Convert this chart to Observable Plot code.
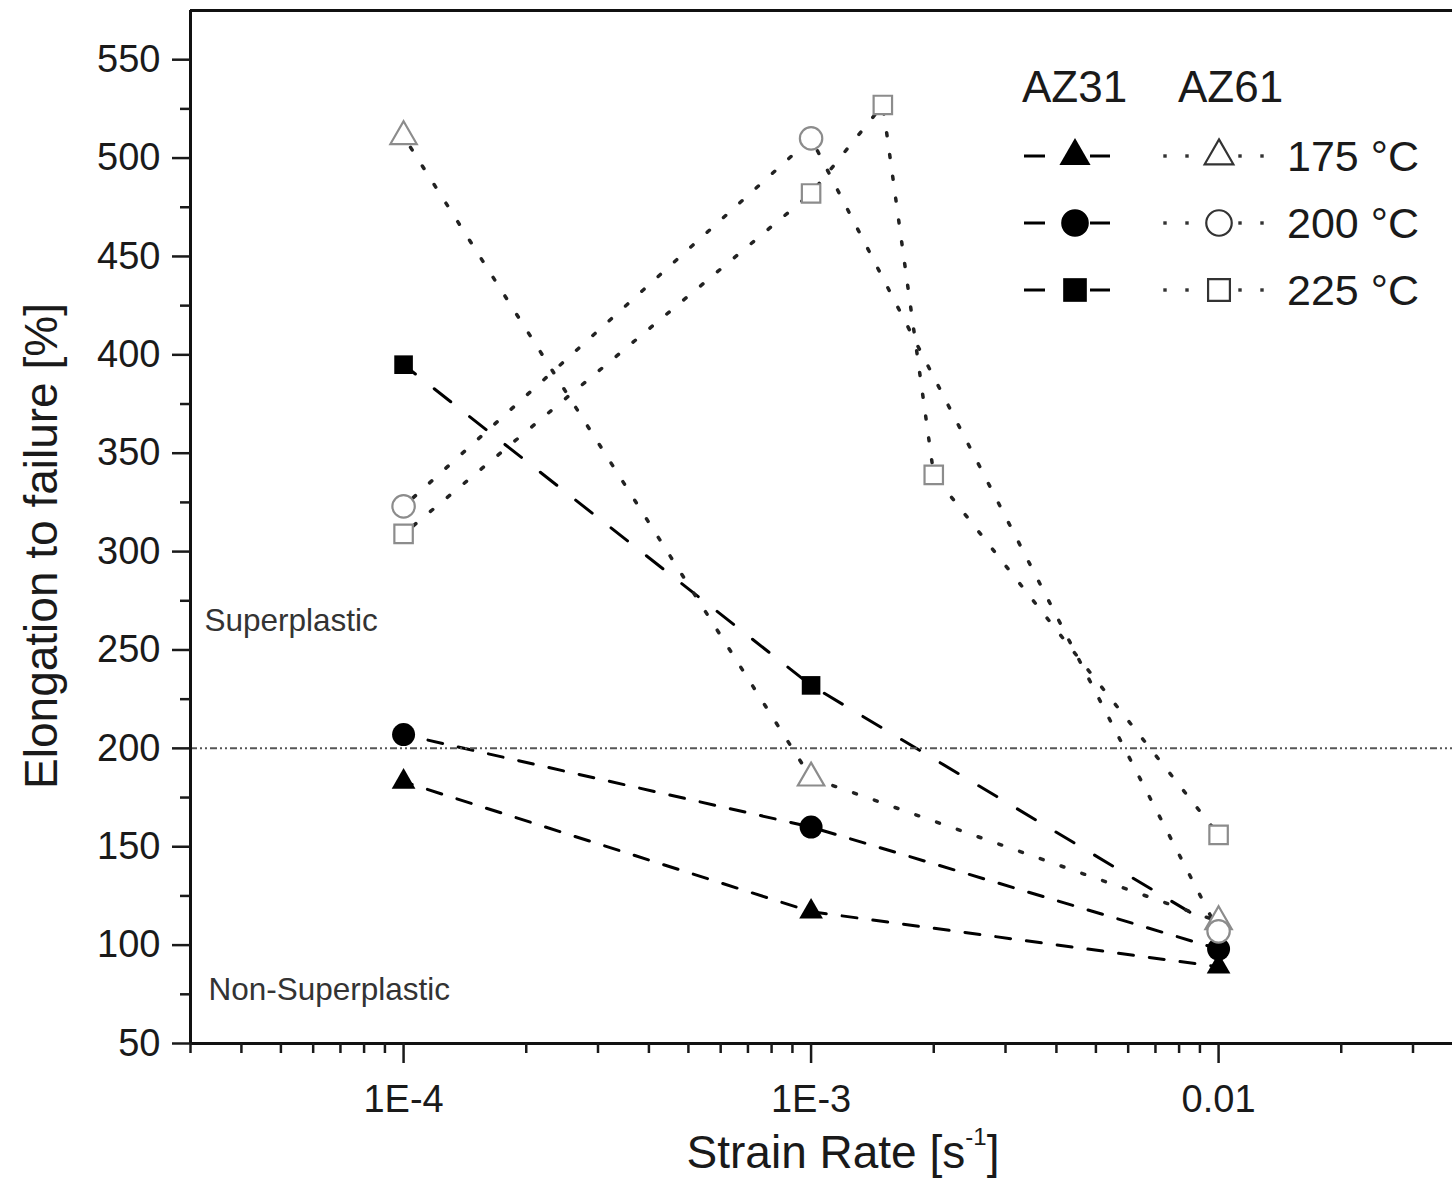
<!DOCTYPE html>
<html><head><meta charset="utf-8">
<script src="https://cdn.jsdelivr.net/npm/d3@7"></script>
<script src="https://cdn.jsdelivr.net/npm/@observablehq/plot@0.6"></script>
<style>body{margin:0;background:#fff} svg{display:block}</style>
</head><body><div id="chart"></div>
<script>
// ---- data ----
const strainRates = [1e-4, 1e-3, 1e-2];
const az31_175 = [183, 117, 89];
const az31_200 = [207, 160, 98];
const az31_225 = [395, 232, 108];
const az61_175 = [511, 185, 112];
const az61_200 = [323, 510, 107];
const az61_225Rates = [1e-4, 1e-3, 1.5e-3, 2e-3, 1e-2];
const az61_225 = [309, 482, 527, 339, 156];
const temperatures = ["175 °C", "200 °C", "225 °C"];
const alloys = ["AZ31", "AZ61"];
const threshold = 200;
const regionLabels = ["Superplastic", "Non-Superplastic"];
const yTicks = d3.range(50, 551, 50);
const yMinorTicks = d3.range(75, 551, 50);
const xMajorTicks = [1e-4, 1e-3, 1e-2];
const xTickLabels = ["1E-4", "1E-3", "0.01"];
const xMinorTicks = [3e-5,4e-5,5e-5,6e-5,7e-5,8e-5,9e-5,2e-4,3e-4,4e-4,5e-4,6e-4,7e-4,8e-4,9e-4,2e-3,3e-3,4e-3,5e-3,6e-3,7e-3,8e-3,9e-3,2e-2,3e-2];
const xDomain = [3e-5, 0.0375];
const yDomain = [50, 575];

// ---- table ----
const rows = [];
function add(alloy, temp, xs, ys) { xs.forEach((x, i) => rows.push({alloy, temp, rate: x, elong: ys[i]})); }
add("AZ31", temperatures[0], strainRates, az31_175);
add("AZ31", temperatures[1], strainRates, az31_200);
add("AZ31", temperatures[2], strainRates, az31_225);
add("AZ61", temperatures[0], strainRates, az61_175);
add("AZ61", temperatures[1], strainRates, az61_200);
add("AZ61", temperatures[2], az61_225Rates, az61_225);

// ---- styles ----
const FONT = "'Liberation Sans', Arial, Helvetica, sans-serif";
const plotSymbols = {"175 °C": "triangle", "200 °C": "circle", "225 °C": "square"};
const d3Symbols = {"175 °C": d3.symbolTriangle, "200 °C": d3.symbolCircle, "225 °C": d3.symbolSquare};
const filledR = {"175 °C": 8.8, "200 °C": 11.5, "225 °C": 10.5};
const openR = {"175 °C": 9.8, "200 °C": 11.2, "225 °C": 10.4};
const legendSize = {"175 °C": 420, "200 °C": 600, "225 °C": 560};
const openGrey = "#8c8c8c";

const sub = (a, t) => rows.filter(d => d.alloy === a && d.temp === t);

const marks = [];
// AZ31 dashed lines
temperatures.forEach(t => marks.push(Plot.line(sub("AZ31", t), {
  x: "rate", y: "elong", stroke: "#000", strokeWidth: 3,
  strokeDasharray: t === "225 °C" ? "21,24" : "15,16", strokeDashoffset: 6
})));
// AZ61 dotted lines
temperatures.forEach(t => marks.push(Plot.line(sub("AZ61", t), {
  x: "rate", y: "elong", stroke: "#222", strokeWidth: 3.5, strokeDasharray: "3,19", strokeDashoffset: 9
})));
// threshold line
marks.push(Plot.ruleY([threshold], {stroke: "#555", strokeWidth: 2, strokeDasharray: "7,3,2,3,2,3"}));
// frame edges
marks.push(Plot.ruleY([yDomain[1]], {stroke: "#111", strokeWidth: 3}));
marks.push(Plot.ruleY([yDomain[0]], {stroke: "#111", strokeWidth: 3}));
marks.push(Plot.ruleX([xDomain[0]], {stroke: "#111", strokeWidth: 3}));
// axes
marks.push(Plot.axisX({ticks: xMajorTicks, tickSize: 20, tickPadding: 22, strokeWidth: 2.5,
  tickFormat: d => xTickLabels[xMajorTicks.indexOf(d)], fontSize: 38, label: null}));
marks.push(Plot.axisX({ticks: xMinorTicks, tickSize: 10, strokeWidth: 2.5, tickFormat: () => "", label: null}));
marks.push(Plot.axisY({ticks: yTicks, tickSize: 18, tickPadding: 12, strokeWidth: 2.5,
  tickFormat: d => String(d), fontSize: 38, label: null}));
marks.push(Plot.axisY({ticks: yMinorTicks, tickSize: 10, strokeWidth: 2.5, tickFormat: () => "", label: null}));
// markers: filled AZ31 first, open AZ61 on top
temperatures.forEach(t => marks.push(Plot.dot(sub("AZ31", t), {
  x: "rate", y: "elong", symbol: () => plotSymbols[t], r: filledR[t], fill: "#000", stroke: "none"
})));
temperatures.forEach(t => marks.push(Plot.dot(sub("AZ61", t), {
  x: "rate", y: "elong", symbol: () => plotSymbols[t], r: openR[t], stroke: openGrey, strokeWidth: 2.2, fill: "#fff"
})));
// region labels
marks.push(Plot.text([regionLabels[0]], {frameAnchor: "left", dx: 14, y: [265], textAnchor: "start", fontSize: 31.5, fill: "#333"}));
marks.push(Plot.text([regionLabels[1]], {frameAnchor: "left", dx: 18, y: [77], textAnchor: "start", fontSize: 31.5, fill: "#333"}));

const W = 1452, H = 1183;
const chart = Plot.plot({
  width: W, height: H,
  marginLeft: 190, marginRight: 0, marginTop: 10, marginBottom: 140,
  x: {type: "log", domain: xDomain, label: null},
  y: {domain: yDomain, label: null},
  symbol: {type: "identity"},
  style: {fontFamily: FONT, fontSize: "38px", color: "#1a1a1a", background: "#fff", overflow: "visible"},
  marks
});
document.getElementById("chart").appendChild(chart);

// ---- axis titles & legend (overlay) ----
const svg = d3.select(chart);
const g = svg.append("g").attr("font-family", FONT).attr("fill", "#1a1a1a");

g.append("text")
  .attr("transform", "translate(57,546) rotate(-90)")
  .attr("text-anchor", "middle").attr("font-size", 46)
  .text("Elongation to failure [%]");

const xl = g.append("text").attr("x", 843).attr("y", 1168).attr("text-anchor", "middle").attr("font-size", 46);
xl.append("tspan").text("Strain Rate [s");
xl.append("tspan").attr("font-size", 24).attr("dy", -23).text("-1");
xl.append("tspan").attr("dy", 23).text("]");

// legend
const lg = g.append("g").attr("text-anchor", "start");
lg.append("text").attr("x", 1022).attr("y", 102).attr("font-size", 44).attr("text-anchor", "start").text(alloys[0]);
lg.append("text").attr("x", 1178).attr("y", 102).attr("font-size", 44).attr("text-anchor", "start").text(alloys[1]);
temperatures.forEach((t, i) => {
  const cy = 156 + i * 67;
  lg.append("line").attr("x1", 1024).attr("x2", 1045).attr("y1", cy).attr("y2", cy).attr("stroke", "#000").attr("stroke-width", 3);
  lg.append("line").attr("x1", 1090).attr("x2", 1110).attr("y1", cy).attr("y2", cy).attr("stroke", "#000").attr("stroke-width", 3);
  lg.append("path").attr("transform", `translate(1075,${cy})`)
    .attr("d", d3.symbol(d3Symbols[t], legendSize[t])()).attr("fill", "#000");
  [1165, 1187, 1240, 1262].forEach(x => lg.append("rect").attr("x", x - 1.7).attr("y", cy - 1.7).attr("width", 3.4).attr("height", 3.4).attr("fill", "#333"));
  lg.append("path").attr("transform", `translate(1219,${cy})`)
    .attr("d", d3.symbol(d3Symbols[t], legendSize[t] * 0.85)()).attr("fill", "none").attr("stroke", "#333").attr("stroke-width", 2.2);
  lg.append("text").attr("x", 1287).attr("y", cy + 15).attr("font-size", 43).attr("text-anchor", "start").text(t);
});
</script>
</body></html>
